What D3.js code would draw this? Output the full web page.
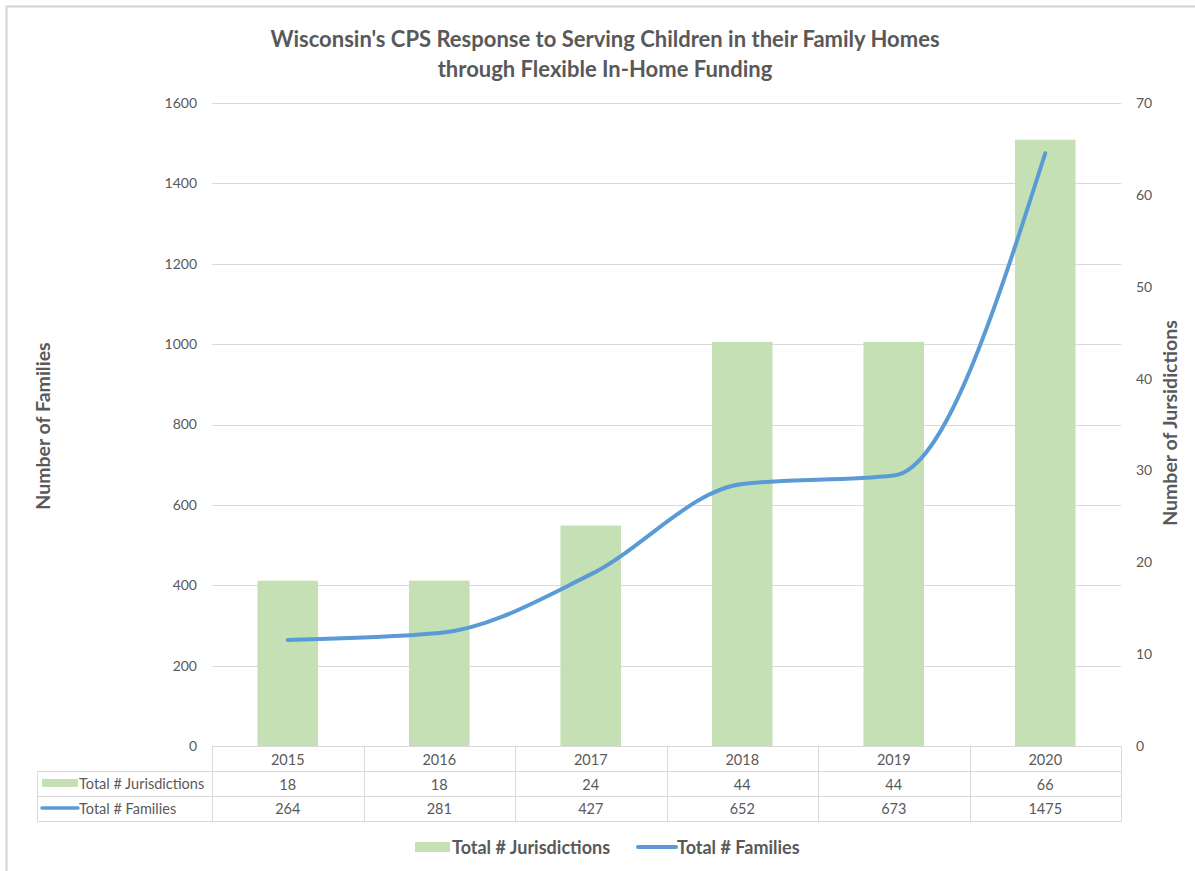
<!DOCTYPE html>
<html>
<head>
<meta charset="utf-8">
<script src="https://cdn.jsdelivr.net/npm/d3@7"></script>
<style>
  body { margin: 0; background: #fff; }
  svg { font-family: Lato, "Open Sans", sans-serif; }
</style>
</head>
<body>
<div id="chart"></div>
<script>
// chart data
const years = ["2015", "2016", "2017", "2018", "2019", "2020"];
const jurisdictions = [18, 18, 24, 44, 44, 66];
const families = [264, 281, 427, 652, 673, 1475];
const leftTicks = [0, 200, 400, 600, 800, 1000, 1200, 1400, 1600];
const rightTicks = [0, 10, 20, 30, 40, 50, 60, 70];
const titleLines = ["Wisconsin's CPS Response to Serving Children in their Family Homes",
    "through Flexible In-Home Funding"];
const seriesNames = ["Total # Jurisdictions", "Total # Families"];

const W = 1195, H = 871;
const plot = { left: 212, right: 1121, top: 103, bottom: 746 };
const colors = { bar: "#c5e0b4", line: "#5b9bd5", grid: "#d9d9d9", text: "#595959" };

const svg = d3.select("#chart").append("svg")
    .attr("width", W)
    .attr("height", H);

// outer frame (only top & left visible)
svg.append("path")
    .attr("d", `M6.5,${H} V6.5 H${W}`)
    .attr("fill", "none")
    .attr("stroke", "#d4d4d4")
    .attr("stroke-width", 2);

// scales
const x = d3.scaleBand().domain(years).range([plot.left, plot.right]).padding(0);
const yL = d3.scaleLinear().domain([0, 1600]).range([plot.bottom, plot.top]);
const yR = d3.scaleLinear().domain([0, 70]).range([plot.bottom, plot.top]);

// title
svg.append("g").selectAll("text")
    .data(titleLines)
    .join("text")
    .attr("x", 605)
    .attr("y", (d, i) => 47 + i * 30)
    .attr("text-anchor", "middle")
    .attr("font-size", 22)
    .attr("font-weight", "bold")
    .attr("fill", colors.text)
    .text(d => d);

// gridlines
svg.append("g").selectAll("line")
    .data(leftTicks.slice(1))
    .join("line")
    .attr("x1", plot.left).attr("x2", plot.right)
    .attr("y1", d => Math.round(yL(d)) + 0.5)
    .attr("y2", d => Math.round(yL(d)) + 0.5)
    .attr("stroke", colors.grid);

// left axis
const axL = svg.append("g")
    .attr("transform", `translate(${plot.left - 15},0)`)
    .call(d3.axisLeft(yL).tickValues(leftTicks).tickFormat(d3.format("d")).tickSize(0).tickPadding(0));
axL.select(".domain").remove();
axL.selectAll("text")
    .attr("font-size", 14)
    .attr("font-family", "Lato, sans-serif")
    .attr("fill", colors.text);

// right axis
const axR = svg.append("g")
    .attr("transform", `translate(${plot.right + 15},0)`)
    .call(d3.axisRight(yR).tickValues(rightTicks).tickFormat(d3.format("d")).tickSize(0).tickPadding(0));
axR.select(".domain").remove();
axR.selectAll("text")
    .attr("font-size", 14)
    .attr("font-family", "Lato, sans-serif")
    .attr("fill", colors.text);

// axis titles
svg.append("text")
    .attr("transform", "translate(50,426) rotate(-90)")
    .attr("text-anchor", "middle")
    .attr("font-size", 19.5)
    .attr("font-weight", "bold")
    .attr("fill", colors.text)
    .text("Number of Families");

svg.append("text")
    .attr("transform", "translate(1177,423) rotate(-90)")
    .attr("text-anchor", "middle")
    .attr("font-size", 19.5)
    .attr("font-weight", "bold")
    .attr("fill", colors.text)
    .text("Number of Jursidictions");

// bars (right axis)
const barW = x.bandwidth() * 0.4;
svg.append("g").selectAll("rect")
    .data(years.map((y, i) => ({ year: y, v: jurisdictions[i] })))
    .join("rect")
    .attr("x", d => x(d.year) + (x.bandwidth() - barW) / 2)
    .attr("width", barW)
    .attr("y", d => yR(d.v))
    .attr("height", d => yR(0) - yR(d.v))
    .attr("fill", colors.bar);

// line (left axis), smoothed
const line = d3.line()
    .x(d => x(d.year) + x.bandwidth() / 2)
    .y(d => yL(d.v))
    .curve(d3.curveMonotoneX);

svg.append("path")
    .datum(years.map((y, i) => ({ year: y, v: families[i] })))
    .attr("d", line)
    .attr("fill", "none")
    .attr("stroke", colors.line)
    .attr("stroke-width", 4)
    .attr("stroke-linecap", "round");

// data table
const rows = { top: 746.5, r1: 771.5, r2: 796.5, bottom: 821.5 };
const tableLeft = 37.5;
const tbl = svg.append("g").attr("stroke", colors.grid).attr("fill", "none");
tbl.append("line").attr("x1", plot.left).attr("x2", plot.right).attr("y1", rows.top).attr("y2", rows.top);
[rows.r1, rows.r2, rows.bottom].forEach(yy => {
    tbl.append("line").attr("x1", tableLeft).attr("x2", plot.right).attr("y1", yy).attr("y2", yy);
});
tbl.append("line").attr("x1", tableLeft).attr("x2", tableLeft).attr("y1", rows.r1).attr("y2", rows.bottom);
tbl.selectAll("line.col")
    .data(years.concat(["end"]))
    .join("line")
    .attr("class", "col")
    .attr("x1", d => Math.round(d === "end" ? plot.right : x(d)) + 0.5)
    .attr("x2", d => Math.round(d === "end" ? plot.right : x(d)) + 0.5)
    .attr("y1", rows.top).attr("y2", rows.bottom);

const cellText = (vals, yy) => svg.append("g").selectAll("text")
    .data(vals)
    .join("text")
    .attr("x", (d, i) => x(years[i]) + x.bandwidth() / 2)
    .attr("y", yy)
    .attr("text-anchor", "middle")
    .attr("dominant-baseline", "central")
    .attr("font-size", 14.5)
    .attr("fill", colors.text)
    .text(d => d);

cellText(years, 759.5);
cellText(jurisdictions, 784);
cellText(families, 808.5);

// table row keys
svg.append("rect").attr("x", 42).attr("y", 779).attr("width", 36).attr("height", 8).attr("fill", colors.bar);
svg.append("line").attr("x1", 42).attr("x2", 78).attr("y1", 808).attr("y2", 808)
    .attr("stroke", colors.line).attr("stroke-width", 3.5).attr("stroke-linecap", "round");
svg.append("g").selectAll("text")
    .data(seriesNames)
    .join("text")
    .attr("x", 79)
    .attr("y", (d, i) => 783.5 + i * 24.5)
    .attr("dominant-baseline", "central")
    .attr("font-size", 14.5)
    .attr("fill", colors.text)
    .text(d => d);

// legend
const lg = svg.append("g").attr("font-size", 18).attr("font-weight", "bold").attr("fill", colors.text);
lg.append("rect").attr("x", 415).attr("y", 842).attr("width", 35).attr("height", 10).attr("fill", colors.bar);
lg.append("text").attr("x", 452).attr("y", 847).attr("dominant-baseline", "central").text(seriesNames[0]);
lg.append("line").attr("x1", 638).attr("x2", 676).attr("y1", 847).attr("y2", 847)
    .attr("stroke", colors.line).attr("stroke-width", 4).attr("stroke-linecap", "round");
lg.append("text").attr("x", 677).attr("y", 847).attr("dominant-baseline", "central").text(seriesNames[1]);
</script>
</body>
</html>
